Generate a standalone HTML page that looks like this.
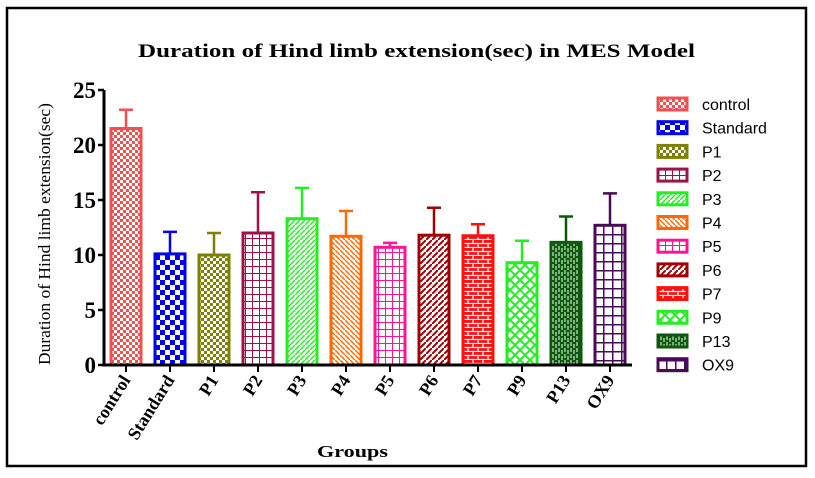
<!DOCTYPE html>
<html><head><meta charset="utf-8"><style>
body{margin:0;background:#fff;}
svg{display:block;font-family:"Liberation Serif",serif;}
</style></head><body>
<svg id="chart" width="815" height="478">
<defs>
<pattern id="p0" width="6" height="6" patternUnits="userSpaceOnUse"><rect width="6" height="6" fill="#f05050"/><rect width="3" height="3" fill="#fff"/><rect x="3" y="3" width="3" height="3" fill="#fff"/></pattern>
<pattern id="p1" width="10" height="10" patternUnits="userSpaceOnUse"><rect width="10" height="10" fill="#fff"/><rect width="5" height="5" fill="#0000ee"/><rect x="5" y="5" width="5" height="5" fill="#0000ee"/></pattern>
<pattern id="p2" width="6" height="6" patternUnits="userSpaceOnUse"><rect width="6" height="6" fill="#808000"/><rect width="3" height="3" fill="#fff"/><rect x="3" y="3" width="3" height="3" fill="#fff"/></pattern>
<pattern id="p3" width="7" height="7" patternUnits="userSpaceOnUse"><rect width="7" height="7" fill="#fff"/><path d="M0 0H7M0 0V7" stroke="#a0104a" stroke-width="2"/></pattern>
<pattern id="p4" width="5" height="5" patternUnits="userSpaceOnUse"><rect width="5" height="5" fill="#fff"/><path d="M0 5L5 0" stroke="#22ee22" stroke-width="1.5"/></pattern>
<pattern id="p5" width="5" height="5" patternUnits="userSpaceOnUse"><rect width="5" height="5" fill="#fff"/><path d="M0 0L5 5" stroke="#ff6a00" stroke-width="1.5"/></pattern>
<pattern id="p6" width="7" height="7" patternUnits="userSpaceOnUse"><rect width="7" height="7" fill="#fff"/><path d="M0 0H7M0 0V7" stroke="#ff1493" stroke-width="2"/></pattern>
<pattern id="p7" width="6" height="6" patternUnits="userSpaceOnUse"><rect width="6" height="6" fill="#fff"/><path d="M0 6L6 0" stroke="#a00000" stroke-width="2"/></pattern>
<pattern id="p8" width="10" height="8" patternUnits="userSpaceOnUse"><rect width="10" height="8" fill="#ff1010"/><path d="M0 3.5H10M0 7.5H10M3 0V3.5M8 4V8" stroke="#fff" stroke-width="1.2"/></pattern>
<pattern id="p9" width="10" height="10" patternUnits="userSpaceOnUse"><rect width="10" height="10" fill="#fff"/><path d="M0 0L10 10M10 0L0 10" stroke="#22ee22" stroke-width="2"/></pattern>
<pattern id="p10" width="6" height="6" patternUnits="userSpaceOnUse"><rect width="6" height="6" fill="#0a5a0a"/><path d="M1 0V4M4 2V6" stroke="#fff" stroke-width="1"/></pattern>
<pattern id="p11" width="9" height="9" patternUnits="userSpaceOnUse"><rect width="9" height="9" fill="#fff"/><path d="M0 0H9M0 0V9" stroke="#4a0a5a" stroke-width="3"/></pattern>
</defs>
<rect x="7" y="8" width="799" height="458" fill="none" stroke="#000" stroke-width="2.5"/>
<text x="138" y="57" textLength="557" lengthAdjust="spacingAndGlyphs" font-weight="bold" font-size="19">Duration of Hind limb extension(sec) in MES Model</text>
<text transform="translate(50,365) rotate(-90)" textLength="262" lengthAdjust="spacingAndGlyphs" font-size="17">Duration of Hind limb extension(sec)</text>
<text x="317" y="457" textLength="71" lengthAdjust="spacingAndGlyphs" font-weight="bold" font-size="17">Groups</text>
<g id="plot"></g>
<g id="legend"></g>
</svg>
<script>
const categories=["control","Standard","P1","P2","P3","P4","P5","P6","P7","P9","P13","OX9"];
const means=[21.5,10.1,10.0,12.0,13.3,11.7,10.7,11.8,11.75,9.3,11.15,12.7];
const errors=[1.7,2.0,2.0,3.7,2.8,2.3,0.4,2.5,1.05,2.0,2.35,2.9];
const yTicks=[0,5,10,15,20,25];
const colors=["#f05050","#0000ee","#808000","#a0104a","#22ee22","#ff6a00","#ff1493","#a00000","#ff1010","#22ee22","#0a5a0a","#4a0a5a"];
const NS="http://www.w3.org/2000/svg";
const x0=104,x1=632,y0=365,yTop=90,yMax=25;
const yS=v=>y0-(v/yMax)*(y0-yTop);
const step=(x1-x0)/categories.length;
const xC=i=>x0+step*(i+0.5);
const plot=document.getElementById('plot'),leg=document.getElementById('legend');
function mk(tag,attrs,parent){const e=document.createElementNS(NS,tag);for(const k in attrs)e.setAttribute(k,attrs[k]);parent.appendChild(e);return e;}
categories.forEach((c,i)=>{
  const bw=30,x=xC(i)-bw/2,top=yS(means[i]),et=yS(means[i]+errors[i]);
  const eb=mk('path',{d:`M${xC(i)} ${top}V${et}M${xC(i)-7} ${et}H${xC(i)+7}`,stroke:colors[i],'stroke-width':2.5,fill:'none'},plot);
  
  
  const r=mk('rect',{x:x,y:top,width:bw,height:y0-top,fill:`url(#p${i})`,stroke:colors[i],'stroke-width':3},plot);
  
  
  const tk=mk('line',{x1:xC(i),x2:xC(i),y1:y0,y2:y0+7,stroke:'#000','stroke-width':2},plot);
  
  
  const t=mk('text',{transform:`translate(${xC(i)+5},${y0+15}) rotate(-58)`,'text-anchor':'end','font-weight':'bold','font-size':18},plot);
  t.textContent=c;
  
  
  const ly=104+i*23.7;
  const ls=mk('rect',{x:658,y:ly-6,width:29,height:12,fill:`url(#p${i})`,stroke:colors[i],'stroke-width':3},leg);
  
  
  const lt=mk('text',{x:702,y:ly+6,'font-family':'Liberation Sans, sans-serif','font-size':16},leg);
  lt.textContent=c;
  
  
});
yTicks.forEach(v=>{
  const l=mk('line',{x1:x0-6,x2:x0,y1:yS(v),y2:yS(v),stroke:'#000','stroke-width':2.5},plot);
  
  
  const t=mk('text',{x:x0-8,y:yS(v)+8,'text-anchor':'end','font-weight':'bold','font-size':23},plot);
  t.textContent=v;
  
  
});
const ax=mk('path',{d:`M${x0} ${yTop}V${y0}H${x1}`,stroke:'#000','stroke-width':3,fill:'none'},plot);


</script>
</body></html>
